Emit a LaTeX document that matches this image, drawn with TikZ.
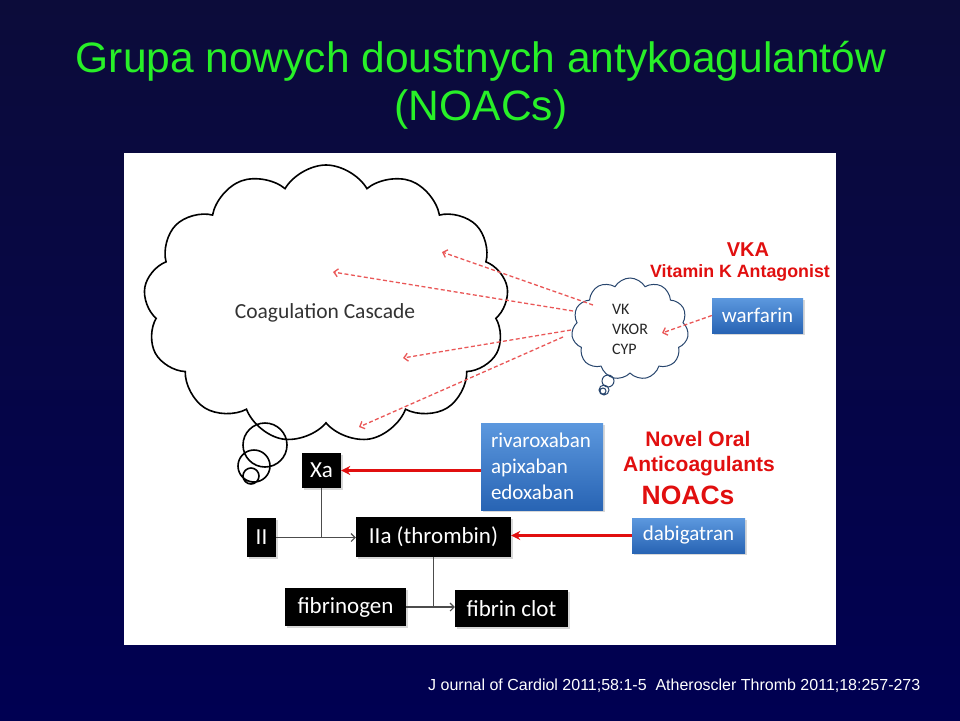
\documentclass[tikz,border=0pt]{standalone}
\usepackage{fontspec}
\setmainfont{Liberation Sans}
\newfontfamily\calibri{Carlito}
\usepackage{tikz}
\usetikzlibrary{arrows.meta,calc,shapes.symbols,shadows}

\definecolor{bgtop}{RGB}{12,12,58}
\definecolor{bgbot}{RGB}{0,0,82}
\definecolor{titlegreen}{RGB}{40,240,40}
\definecolor{noacred}{RGB}{225,15,15}
\definecolor{drugtop}{RGB}{92,152,222}
\definecolor{drugbot}{RGB}{40,100,180}
\definecolor{cloudline}{RGB}{40,70,110}

\begin{document}
\begin{tikzpicture}
	[
	 x = 1pt,
	 y = -1pt,
	 every node/.style = {inner sep = 0pt,
	                      align = center},
	 blk/.style  = {fill = black,
	                text = white,
	                font = \calibri\fontsize{23}{26}\selectfont,
	                drop shadow = {opacity = .3, shadow xshift = 1.5pt, shadow yshift = -1.5pt}},
	 drug/.style = {top color = drugtop,
	                bottom color = drugbot,
	                text = white,
	                font = \calibri\fontsize{21}{26}\selectfont,
	                drop shadow = {opacity = .3, shadow xshift = 1.5pt, shadow yshift = -1.5pt}},
	 think/.style = {cloud, cloud puffs = 13, cloud puff arc = 120,
	                 cloud ignores aspect, draw, line width = 1.6pt},
	 title/.style = {anchor = base, text = titlegreen,
	                 font = \fontsize{42.5}{48}\selectfont},
	 redtxt/.style = {anchor = base, text = noacred,
	                  font = \bfseries\fontsize{21}{24}\selectfont},
	 hit/.style  = {draw = noacred, line width = 2.4pt,
	                -{Stealth[length = 9pt, width = 9pt]}},
	 hint/.style = {draw = noacred!70, line width = 1.3pt,
	                dash pattern = on 4pt off 2.5pt,
	                -{Straight Barb[length = 4pt, width = 8pt]}},
	 link/.style   = {draw = black!70, line width = 1.1pt},
	 linkto/.style = {link, -{Straight Barb[length = 4pt, width = 8pt]}}
	]
	
	\newcommand{\Xabans}{rivaroxaban\\apixaban\\edoxaban}
	\newcommand{\Refs}{J ournal of Cardiol 2011;58:1-5\ \ Atheroscler Thromb 2011;18:257-273}
	
	\useasboundingbox (0,0) rectangle (960,720);
	\shade[top color = bgtop, bottom color = bgbot] (0,0) rectangle (960,720);
	\fill[white] (124,153) rectangle (836,645);
	
	\node[title] (title1) at (481,72)  {Grupa nowych doustnych antykoagulantów};
	\node[title] (title2) at (481,120) {(NOACs)};
	
	\node[think, minimum width = 365pt, minimum height = 278pt] (cascade) at (326,304) {};
	\node[font = \calibri\fontsize{21.5}{24}\selectfont, text = black!80] (cascadetxt) at (325,313) {Coagulation Cascade};
	\draw[line width = 1.6pt] (265,445) circle (22pt) (254,466) circle (16pt) (251,476) circle (8pt);
	
	\node[think, draw = cloudline, line width = 1pt, cloud puffs = 11,
	      minimum width = 117pt, minimum height = 102pt, align = left,
	      font = \calibri\fontsize{16}{20}\selectfont, text = black!85] (vk) at (630,329) {VK\\VKOR\\CYP};
	\draw[cloudline, line width = 1pt] (608,381) circle (6pt) (604,390) circle (5pt) (603,391) circle (3pt);
	
	\node[drug, minimum width = 91pt, minimum height = 35pt]  (warf)  at (757.5,315.5) {warfarin};
	\node[drug, minimum width = 122pt, minimum height = 87pt,
	      text width = 102pt, align = left]                   (xaban) at (542,466.5)   {\Xabans};
	\node[drug, minimum width = 113pt, minimum height = 35pt] (dabi)  at (688.5,535.5) {dabigatran};
	
	\node[blk, minimum width = 39pt,  minimum height = 35pt] (Xa)     at (321.5,470.5) {Xa};
	\node[blk, minimum width = 29pt,  minimum height = 39pt] (II)     at (261.5,537.5) {II};
	\node[blk, minimum width = 155pt, minimum height = 40pt] (IIa)    at (433.5,537)   {IIa (thrombin)};
	\node[blk, minimum width = 121pt, minimum height = 38pt] (fibgen) at (345.5,607)   {fibrinogen};
	\node[blk, minimum width = 113pt, minimum height = 37pt] (fibclot) at (511.5,608.5) {fibrin clot};
	
	\node[redtxt, font = \bfseries\fontsize{20}{22}\selectfont] (vka) at (748,256) {VKA};
	\node[redtxt, font = \bfseries\fontsize{17.8}{20}\selectfont] (vkaname) at (740,277) {Vitamin K Antagonist};
	\node[redtxt] (novel)    at (698,446) {Novel Oral};
	\node[redtxt] (anticoag) at (699,471) {Anticoagulants};
	\node[redtxt, font = \bfseries\fontsize{26.5}{28}\selectfont] (noacs) at (688,504) {NOACs};
	
	\node[anchor = base west, text = white, font = \fontsize{16}{18}\selectfont] (refs) at (428,690) {\Refs};
	
	\coordinate (v1) at (593,305);
	\coordinate (v2) at (573,311);
	\coordinate (v3) at (571,330);
	\coordinate (v4) at (563,337);
	\coordinate (c1) at (442,252);
	\coordinate (c2) at (333,272);
	\coordinate (c3) at (403,358);
	\coordinate (c4) at (359,427);
	\coordinate (vkor) at (662,333);
	
	\foreach \s/\t in {v1/c1, v2/c2, v3/c3, v4/c4}
		\draw[hint] (\s) -- (\t);
	\draw[hint] (warf.west) -- (vkor);
	
	\draw[hit] (xaban.west |- Xa) -- (Xa.east);
	\draw[hit] (dabi.west) -- (dabi.west -| IIa.east);
	
	\draw[link]   (Xa.south) -- (Xa.south |- II.east);
	\draw[linkto] (II.east) -- (IIa.west |- II.east);
	\draw[link]   (IIa.south) -- (IIa.south |- fibgen.east);
	\draw[linkto] (fibgen.east) -- (fibclot.west |- fibgen.east);
\end{tikzpicture}
\end{document}
